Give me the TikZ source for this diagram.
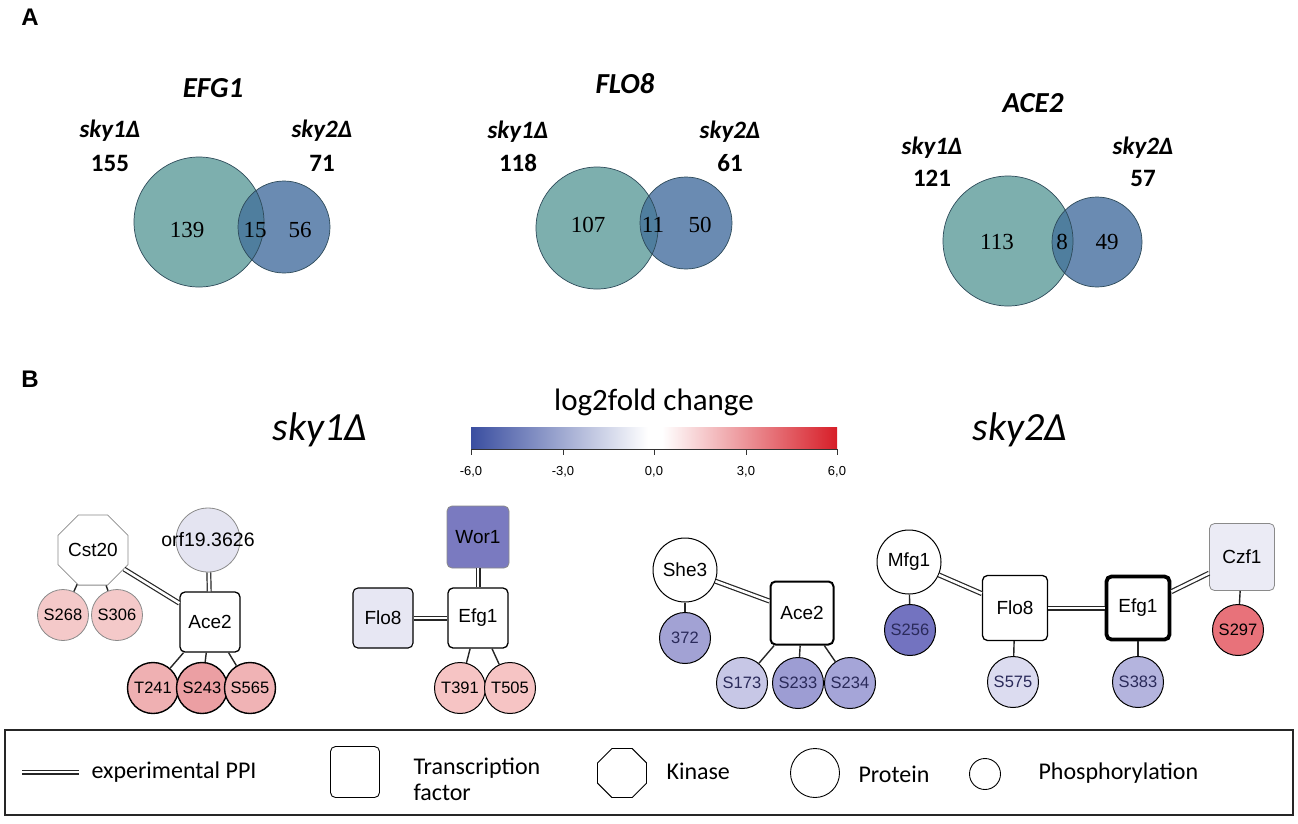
\documentclass[tikz,border=0pt]{standalone}
\usepackage{fontspec}
\setmainfont{Liberation Serif}
\newfontfamily\carl{Carlito}
\newfontfamily\ari{Liberation Sans}
\usetikzlibrary{shapes.geometric}
\definecolor{vteal}{HTML}{7DAFAE}
\definecolor{vblue}{HTML}{6A8BB2}
\definecolor{vovl}{HTML}{4F7E9E}
\definecolor{vline}{HTML}{2E4B5A}
\definecolor{cbBlue}{HTML}{3A4EA0}
\definecolor{cbRed}{HTML}{D71E28}
\definecolor{navy}{HTML}{2A2A5A}
\definecolor{gbord}{HTML}{8A8A8A}
\tikzset{
  tf/.style={rectangle, rounded corners=5pt, draw=black, line width=1.3pt, minimum width=60pt, minimum height=60pt, inner sep=0pt, font=\ari\fontsize{19}{22}\selectfont},
  prot/.style={circle, draw=black, line width=1pt, minimum size=64pt, inner sep=0pt, font=\ari\fontsize{19}{22}\selectfont},
  kin/.style={regular polygon, regular polygon sides=8, draw=gbord, line width=0.8pt, minimum size=66pt, inner sep=0pt, fill=white, font=\ari\fontsize{19}{22}\selectfont},
  phos/.style={circle, draw=black, line width=1pt, minimum size=51pt, inner sep=0pt, font=\ari\fontsize{16.5}{19}\selectfont},
  phosb/.style={phos, text=navy},
  ppi/.style={double=white, double distance=2.6pt, line width=1.2pt, draw=black!85},
  lnk/.style={line width=1.4pt, draw=black!85},
  vlab/.style={font=\carl\bfseries\itshape\fontsize{25}{28}\selectfont},
  vnum/.style={font=\carl\bfseries\fontsize{25}{28}\selectfont},
  vtit/.style={font=\carl\bfseries\itshape\fontsize{29}{32}\selectfont},
  vin/.style={font=\fontsize{23}{26}\selectfont},
  lgtxt/.style={font=\carl\fontsize{24}{27}\selectfont, anchor=west, align=left},
  panel/.style={font=\ari\bfseries\fontsize{24}{27}\selectfont},
  tick/.style={font=\ari\fontsize{13}{15}\selectfont}
}
\newcommand\myvenn[6]{%
  \fill[vteal] (#1,#2) circle [radius=#3];
  \fill[vblue] (#4,#5) circle [radius=#6];
  \begin{scope}
    \clip (#1,#2) circle [radius=#3];
    \fill[vovl] (#4,#5) circle [radius=#6];
  \end{scope}
  \draw[vline, line width=0.7pt] (#1,#2) circle [radius=#3];
  \draw[vline, line width=0.7pt] (#4,#5) circle [radius=#6];
}
\begin{document}
\begin{tikzpicture}[x=1pt,y=-1pt]
\useasboundingbox (0,0) rectangle (1298,823);
\fill[white] (0,0) rectangle (1298,823);

% ---------- Panel A ----------
\node[panel] (pA) at (30,17) {A};

\myvenn{199}{222}{65}{284}{227}{46}
\node[vtit] (t1) at (213,88) {EFG1};
\node[vlab] (a1) at (110,131) {sky1Δ};
\node[vnum] (a1n) at (110,163) {155};
\node[vlab] (a2) at (322,131) {sky2Δ};
\node[vnum] (a2n) at (322,163) {71};
\node[vin] (a3) at (187,230) {139};
\node[vin] (a4) at (255,230) {15};
\node[vin] (a5) at (300,230) {56};

\myvenn{597}{228}{61}{686}{223}{46}
\node[vtit] (t2) at (625,84) {FLO8};
\node[vlab] (b1) at (518,132) {sky1Δ};
\node[vnum] (b1n) at (518,163) {118};
\node[vlab] (b2) at (730,132) {sky2Δ};
\node[vnum] (b2n) at (730,163) {61};
\node[vin] (b3) at (588,225) {107};
\node[vin] (b4) at (653,225) {11};
\node[vin] (b5) at (700,225) {50};

\myvenn{1008}{241}{65}{1097}{242}{45}
\node[vtit] (t3) at (1033,103) {ACE2};
\node[vlab] (c1) at (932,148) {sky1Δ};
\node[vnum] (c1n) at (932,178) {121};
\node[vlab] (c2) at (1143,148) {sky2Δ};
\node[vnum] (c2n) at (1143,178) {57};
\node[vin] (c3) at (997,242) {113};
\node[vin] (c4) at (1062,242) {8};
\node[vin] (c5) at (1107,242) {49};

% ---------- Panel B ----------
\node[panel] (pB) at (30,379) {B};
\node[font=\carl\itshape\fontsize{40}{44}\selectfont] (h1) at (320,430) {sky1Δ};
\node[font=\carl\itshape\fontsize{40}{44}\selectfont] (h2) at (1020,430) {sky2Δ};
\node[font=\carl\fontsize{31}{34}\selectfont] (lfc) at (654,402) {log2fold change};

% colour bar
\shade[left color=cbBlue, right color=white] (471,427) rectangle (648,449);
\fill[white] (648,427) rectangle (662,449);
\shade[left color=white, right color=cbRed] (662,427) rectangle (837,449);
\draw[black!80, line width=0.8pt] (471,449) -- (837,449);
\foreach \x/\l in {471/{-6,0}, 563/{-3,0}, 654/{0,0}, 746/{3,0}, 837/{6,0}} {
  \draw[black!80, line width=0.8pt] (\x,449) -- (\x,455);
  \node[tick] at (\x,472) {\l};
}

% sky1 network
\node[kin] (cst) at (93,550) {Cst20};
\node[prot, draw=gbord, line width=0.8pt, fill={rgb,255:red,228;green,228;blue,241}] (orf) at (208,540) {};
\node[font=\ari\fontsize{19.5}{22}\selectfont] (orft) at (208,540) {orf19.3626};
\node[tf, fill=white] (ace2a) at (210,622) {Ace2};
\node[phos, draw=gbord, line width=0.8pt, fill={rgb,255:red,244;green,201;blue,201}] (s268) at (63,615) {S268};
\node[phos, draw=gbord, line width=0.8pt, fill={rgb,255:red,244;green,201;blue,201}] (s306) at (117,615) {S306};
\node[phos, line width=1.4pt, fill={rgb,255:red,239;green,176;blue,178}] (t241) at (153,688) {T241};
\node[phos, line width=1.4pt, fill={rgb,255:red,235;green,159;blue,163}] (s243) at (202,688) {S243};
\node[phos, line width=1.4pt, fill={rgb,255:red,240;green,179;blue,181}] (s565) at (250,688) {S565};

\node[tf, draw=gbord, line width=0.8pt, minimum width=62pt, minimum height=62pt, fill={rgb,255:red,122;green,122;blue,192}] (wor1) at (478,537) {Wor1};
\node[tf, line width=1.1pt, fill={rgb,255:red,231;green,231;blue,243}] (flo8a) at (383,618) {Flo8};
\node[tf, fill=white] (efg1a) at (478,618) {Efg1};
\node[phos, fill={rgb,255:red,246;green,196;blue,196}] (t391) at (460,688) {T391};
\node[phos, fill={rgb,255:red,246;green,196;blue,196}] (t505) at (510,688) {T505};

\draw[ppi] (cst) -- (ace2a);
\draw[ppi] (orf) -- (ace2a);
\draw[lnk] (cst) -- (s268);
\draw[lnk] (cst) -- (s306);
\draw[lnk] (ace2a) -- (t241);
\draw[lnk] (ace2a) -- (s243);
\draw[lnk] (ace2a) -- (s565);
\draw[ppi] (wor1) -- (efg1a);
\draw[ppi] (flo8a) -- (efg1a);
\draw[lnk] (efg1a) -- (t391);
\draw[lnk] (efg1a) -- (t505);

% sky2 network
\node[prot, fill=white] (she3) at (685,570) {She3};
\node[phosb, fill={rgb,255:red,162;green,162;blue,212}] (n372) at (685,638) {372};
\node[tf, line width=2pt, minimum width=63pt, minimum height=63pt, fill=white] (ace2b) at (802,613) {Ace2};
\node[phosb, fill={rgb,255:red,199;green,199;blue,230}] (s173) at (742,683) {S173};
\node[phosb, fill={rgb,255:red,157;green,157;blue,211}] (s233) at (798,683) {S233};
\node[phosb, fill={rgb,255:red,165;green,165;blue,216}] (s234) at (850,683) {S234};
\node[prot, fill=white] (mfg1) at (909,562) {Mfg1};
\node[phosb, fill={rgb,255:red,115;green,115;blue,192}] (s256) at (910,630) {S256};
\node[tf, minimum width=65pt, minimum height=65pt, fill=white] (flo8b) at (1015,608) {Flo8};
\node[tf, line width=3.8pt, minimum width=63pt, minimum height=63pt, fill=white] (efg1b) at (1138,608) {Efg1};
\node[phosb, fill={rgb,255:red,220;green,220;blue,240}] (s575) at (1013,682) {S575};
\node[phosb, fill={rgb,255:red,180;green,180;blue,222}] (s383) at (1138,682) {S383};
\node[tf, draw=gbord, line width=0.8pt, minimum width=65pt, minimum height=67pt, fill={rgb,255:red,235;green,235;blue,245}] (czf1) at (1242,557) {Czf1};
\node[phos, fill={rgb,255:red,232;green,114;blue,122}] (s297) at (1238,630) {S297};

\draw[ppi] (she3) -- (ace2b);
\draw[lnk] (she3) -- (n372);
\draw[lnk] (ace2b) -- (s173);
\draw[lnk] (ace2b) -- (s233);
\draw[lnk] (ace2b) -- (s234);
\draw[ppi] (mfg1) -- (flo8b);
\draw[lnk] (mfg1) -- (s256);
\draw[ppi] (flo8b) -- (efg1b);
\draw[lnk] (flo8b) -- (s575);
\draw[ppi] (efg1b) -- (czf1);
\draw[lnk] (efg1b) -- (s383);
\draw[lnk] (czf1) -- (s297);

% ---------- Legend ----------
\draw[black!85, line width=1.6pt] (5,730) rectangle (1293,815);
\coordinate (lg1) at (22,772);
\coordinate (lg2) at (79,772);
\draw[ppi] (lg1) -- (lg2);
\node[lgtxt] (lgt1) at (88,772) {experimental PPI};
\node[tf, line width=0.9pt, minimum width=49pt, minimum height=51pt] (lgsq) at (355,772) {};
\node[lgtxt] (lgt2) at (410,779) {Transcription\\[-1pt]factor};
\node[kin, draw=black, line width=0.9pt, minimum size=53pt] (lgoct) at (622,773) {};
\node[lgtxt] (lgt3) at (663,771) {Kinase};
\node[prot, line width=0.9pt, minimum size=49pt] (lgpr) at (815,773) {};
\node[lgtxt] (lgt4) at (855,774) {Protein};
\node[phos, line width=0.9pt, minimum size=31pt] (lgph) at (985,774) {};
\node[lgtxt] (lgt5) at (1035,773) {Phosphorylation};
\end{tikzpicture}
\end{document}
